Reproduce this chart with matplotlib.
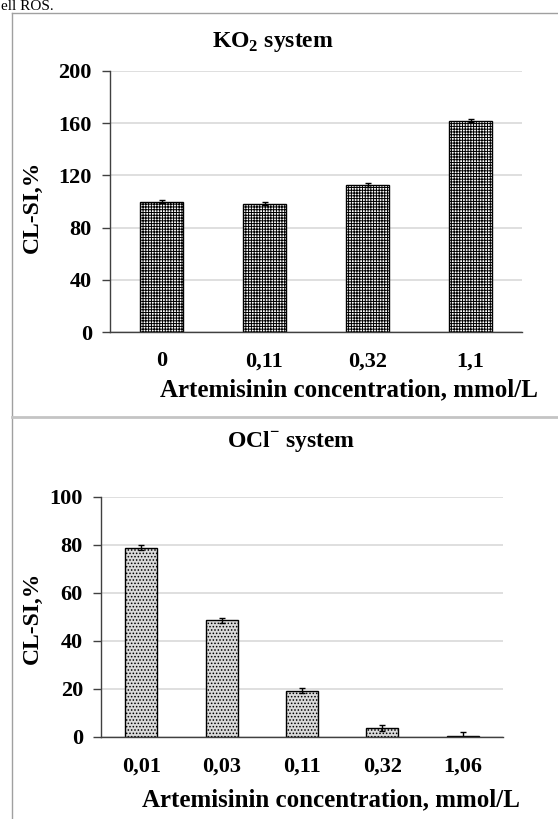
import matplotlib
matplotlib.use("Agg")
import matplotlib.pyplot as plt
from matplotlib.lines import Line2D

# data
ko2_labels = ["0", "0,11", "0,32", "1,1"]
ko2_values = [100.0, 98.3, 112.6, 162.0]
ko2_errors = [1.0, 1.0, 1.2, 1.0]

ocl_labels = ["0,01", "0,03", "0,11", "0,32", "1,06"]
ocl_values = [78.9, 48.7, 19.3, 3.7, 0.5]
ocl_errors = [1.0, 1.0, 1.0, 1.2, 1.5]

W, H = 558, 819
plt.rcParams["font.family"] = ["Liberation Serif", "DejaVu Serif"]
plt.rcParams["font.weight"] = "bold"
plt.rcParams["mathtext.fontset"] = "custom"
plt.rcParams["mathtext.rm"] = "Liberation Serif:bold"
plt.rcParams["mathtext.bf"] = "Liberation Serif:bold"
plt.rcParams["hatch.linewidth"] = 0.7

fig = plt.figure(figsize=(W / 100, H / 100), dpi=100)


def px_rect(left, right, top, bottom):
    return [left / W, 1 - bottom / H, (right - left) / W, (bottom - top) / H]


def style_axes(ax, ymax, ystep):
    ax.set_ylim(0, ymax)
    ax.set_yticks(range(0, ymax + 1, ystep))
    ax.grid(axis="y", color="#d9d9d9", linewidth=1.2)
    ax.set_axisbelow(True)
    for s in ("top", "right"):
        ax.spines[s].set_visible(False)
    ax.spines["left"].set_color("#404040")
    ax.spines["bottom"].set_color("#404040")
    ax.spines["left"].set_linewidth(1.0)
    ax.spines["bottom"].set_linewidth(1.0)
    ax.tick_params(axis="y", length=6, width=1.0, color="#404040", pad=7, labelsize=16)
    ax.tick_params(axis="x", length=0, pad=14, labelsize=16)
    for lab in ax.get_xticklabels() + ax.get_yticklabels():
        lab.set_fontweight("bold")


# top panel: KO2 system
ax1 = fig.add_axes(px_rect(110, 522, 71, 332))
x1 = range(len(ko2_values))
ax1.bar(x1, ko2_values, width=0.41, facecolor="white", edgecolor="black",
        hatch="++++++", linewidth=1.0, yerr=ko2_errors, capsize=2.5,
        error_kw=dict(ecolor="black", elinewidth=1.0, capthick=1.0))
ax1.set_xlim(-0.5, len(ko2_values) - 0.5)
ax1.set_xticks(list(x1))
ax1.set_xticklabels(ko2_labels)
style_axes(ax1, 200, 40)
ax1.set_xlabel("Artemisinin concentration, mmol/L", fontsize=18, fontweight="bold", va="center")
ax1.xaxis.set_label_coords(0.58, -0.222)
ax1.set_ylabel("CL-SI,%", fontsize=17, fontweight="bold", va="center")
ax1.yaxis.set_label_coords(-0.189, 0.479)

# bottom panel: OCl- system
ax2 = fig.add_axes(px_rect(101, 503, 497, 737))
x2 = range(len(ocl_values))
ax2.bar(x2, ocl_values, width=0.40, facecolor="#dadada", edgecolor="black",
        hatch=".....", linewidth=1.0, yerr=ocl_errors, capsize=2.5,
        error_kw=dict(ecolor="black", elinewidth=1.0, capthick=1.0))
ax2.set_xlim(-0.5, len(ocl_values) - 0.5)
ax2.set_xticks(list(x2))
ax2.set_xticklabels(ocl_labels)
style_axes(ax2, 100, 20)
ax2.set_xlabel("Artemisinin concentration, mmol/L", fontsize=18, fontweight="bold", va="center")
ax2.xaxis.set_label_coords(0.572, -0.2625)
ax2.set_ylabel("CL-SI,%", fontsize=17, fontweight="bold", va="center")
ax2.yaxis.set_label_coords(-0.172, 0.496)

# titles
fig.text(273 / W, 1 - 42 / H, r"KO$_2$ system", ha="center", va="center",
         fontsize=17, fontweight="bold")
fig.text(291 / W, 1 - 442 / H, r"OCl$^{-}$ system", ha="center", va="center",
         fontsize=17, fontweight="bold")

# frame lines and the document text above the figure
fig.add_artist(Line2D([12 / W, 12 / W], [0, 1 - 13 / H], color="#a0a0a0", lw=1.0))
fig.add_artist(Line2D([12 / W, 1], [1 - 13 / H, 1 - 13 / H], color="#a0a0a0", lw=1.0))
fig.add_artist(Line2D([12 / W, 1], [1 - 417 / H, 1 - 417 / H], color="#c4c4c4", lw=2.0))
fig.text(0.002, 1 - 10 / H, "ell ROS.", ha="left", va="baseline", fontsize=11, fontweight="normal")

fig.savefig("out.png", dpi=100)
